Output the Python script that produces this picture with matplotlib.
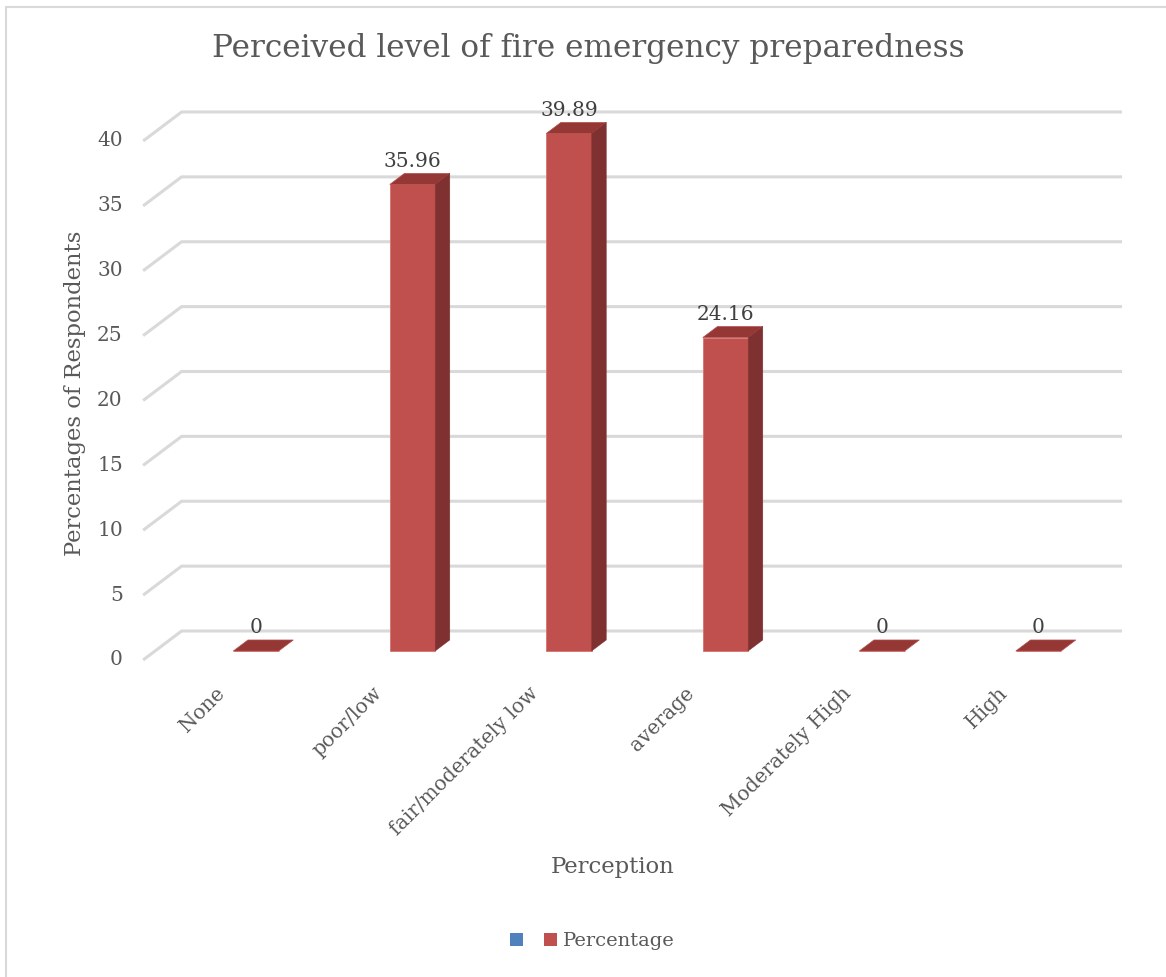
import matplotlib.pyplot as plt
from matplotlib.patches import Polygon, Patch, Rectangle
import numpy as np

# data
categories = ['None', 'poor/low', 'fair/moderately low', 'average',
              'Moderately High', 'High']
percentages = [0, 35.96, 39.89, 24.16, 0, 0]
y_ticks = [0, 5, 10, 15, 20, 25, 30, 35, 40]

title = 'Perceived level of fire emergency preparedness'
x_label = 'Perception'
y_label = 'Percentages of Respondents'

plt.rcParams['font.family'] = ['DejaVu Serif']

FRONT = '#C0504D'
SIDE = '#7E3130'
TOP = '#943735'
GRID = '#D9D9D9'
TXT = '#595959'

W, H = 1166, 977
fig = plt.figure(figsize=(W / 100, H / 100), dpi=100)
ax = fig.add_axes([0, 0, 1, 1])
ax.axis('off')

# pixel mapping of the bar plane: x = 256 + 156.5*i, y = 651 - 12.975*v
px_x, x0 = 156.5, 256
px_y, y0 = 12.975, 651
ax.set_xlim(-x0 / px_x, (W - x0) / px_x)
ax.set_ylim((y0 - H) / px_y, y0 / px_y)

# oblique depth (full depth of the plot box), in data units
DX, DY = 38.5 / px_x, 29 / px_y
z_bf, z_bb = 0.31, 0.69


def proj(x, y, z):
    return x + (z - z_bf) * DX, y + (z - z_bf) * DY


n = len(categories)
pos = np.arange(n)
wall_l = -0.5 - 0.145
wall_r = n - 0.5 - 0.136

# back wall gridlines + left wall slants
for v in y_ticks:
    xa, ya = proj(wall_l, v, 0)
    xb, yb = proj(wall_l, v, 1)
    xc, yc = proj(wall_r, v, 1)
    ax.plot([xa, xb, xc], [ya, yb, yc], color=GRID, lw=2.2,
            solid_capstyle='butt', zorder=1)
    ax.text(xa - 0.13, ya, str(v), ha='right', va='center',
            fontsize=14.5, color=TXT)

# bars
bw = 0.29
ax.bar(pos, percentages, width=bw, color=FRONT, edgecolor='#D7726E',
       linewidth=0.6, zorder=3)
for x, v in zip(pos, percentages):
    l, r = x - bw / 2, x + bw / 2
    top = [proj(l, v, z_bf), proj(r, v, z_bf), proj(r, v, z_bb), proj(l, v, z_bb)]
    ax.add_patch(Polygon(top, closed=True, facecolor=TOP, edgecolor='#B5504D',
                         linewidth=0.5, zorder=4))
    if v > 0:
        side = [proj(r, 0, z_bf), proj(r, v, z_bf), proj(r, v, z_bb), proj(r, 0, z_bb)]
        ax.add_patch(Polygon(side, closed=True, facecolor=SIDE, edgecolor=SIDE,
                             linewidth=0.3, zorder=4))
    lx, ly = proj(x, v, z_bb)
    ax.text(x, ly + 0.5, f'{v:g}', ha='center', va='baseline',
            fontsize=14.5, color='#404040', zorder=5)

# category labels
for x, c in zip(pos, categories):
    ax.text(x - 0.26, -2.5, c, rotation=45, ha='right', va='top',
            rotation_mode='anchor', fontsize=14.5, color=TXT)

fig.text(588 / W, 1 - 48 / H, title, ha='center', va='center',
         fontsize=22.4, color=TXT)
fig.text(613 / W, 1 - 867 / H, x_label, ha='center', va='center',
         fontsize=16.4, color=TXT)
fig.text(75 / W, 1 - 393 / H, y_label, ha='center', va='center',
         rotation=90, fontsize=16.3, color=TXT)

handles = [Patch(facecolor='#4F81BD'), Patch(facecolor=FRONT)]
fig.legend(handles, [' ', 'Percentage'], ncol=2, loc='center',
           bbox_to_anchor=(592 / W, 1 - 941 / H), frameon=False,
           handlelength=0.67, handleheight=0.67, handletextpad=0.3,
           columnspacing=0.45, fontsize=14, labelcolor=TXT)

# chart border
fig.patches.append(Rectangle((6 / W, -0.1), 1.2, 1 - 7 / H + 0.1,
                             transform=fig.transFigure, fill=False,
                             edgecolor='#D9D9D9', linewidth=1.5))

fig.savefig('out.png', dpi=100, facecolor='white')
